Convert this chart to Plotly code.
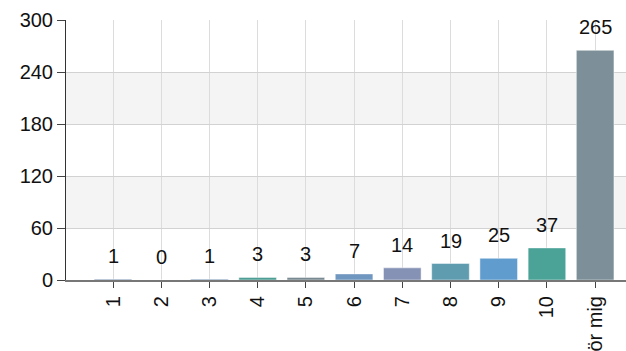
import plotly.graph_objects as go

# Answer categories and response counts
categories = ["1", "2", "3", "4", "5", "6", "7", "8", "9", "10", "Inte aktuellt för mig"]
counts = [1, 0, 1, 3, 3, 7, 14, 19, 25, 37, 265]
bar_colors = ["#5f7fa3", "#6f8fb0", "#5c80a8", "#4e9e96", "#7a8a92", "#7097bf",
              "#8592b5", "#5f9cb0", "#609cce", "#4ba398", "#7d9099"]
y_ticks = [0, 60, 120, 180, 240, 300]

positions = list(range(len(categories)))
FONT = "Liberation Sans, Arial, sans-serif"
FS = 20

fig = go.Figure()
fig.add_trace(go.Bar(
    x=positions,
    y=counts,
    width=0.78,
    marker=dict(color=bar_colors, line=dict(color="rgba(255,255,255,0.45)", width=1)),
    hoverinfo="x+y",
))

# Value labels above each bar
for xp, v in zip(positions, counts):
    fig.add_annotation(x=xp, y=v, text=str(v), showarrow=False,
                       yanchor="bottom", yshift=10,
                       font=dict(family=FONT, size=FS, color="#111"))

# Alternating shaded bands behind the plot
shapes = []
for lo, hi in [(60, 120), (180, 240)]:
    shapes.append(dict(type="rect", xref="paper", yref="y", x0=0, x1=1, y0=lo, y1=hi,
                       fillcolor="#f4f4f4", line=dict(width=0), layer="below"))

fig.update_layout(
    width=626, height=351,
    margin=dict(l=66, r=0, t=20, b=71),
    paper_bgcolor="white", plot_bgcolor="white",
    showlegend=False,
    shapes=shapes,
    font=dict(family=FONT, size=FS, color="#111"),
    xaxis=dict(
        range=[-0.975, 10.64],
        tickmode="array",
        tickvals=[-1] + positions,
        ticktext=[""] + categories,
        tickangle=-90,
        ticks="outside", ticklen=6, tickcolor="#444", tickwidth=1,
        showgrid=True, gridcolor="#dcdcdc", gridwidth=1,
        showline=True, linecolor="#777", linewidth=2,
        zeroline=False,
        automargin=False,
        tickfont=dict(family=FONT, size=FS, color="#111"),
    ),
    yaxis=dict(
        range=[0, 300],
        tickmode="array",
        tickvals=y_ticks,
        ticks="outside", ticklen=8, tickcolor="#444", tickwidth=1,
        showgrid=True, gridcolor="#d2d2d2", gridwidth=1,
        showline=True, linecolor="#333", linewidth=1,
        zeroline=False,
        automargin=False,
        tickfont=dict(family=FONT, size=FS, color="#111"),
    ),
    bargap=0.22,
)

fig.write_html("out.html")
